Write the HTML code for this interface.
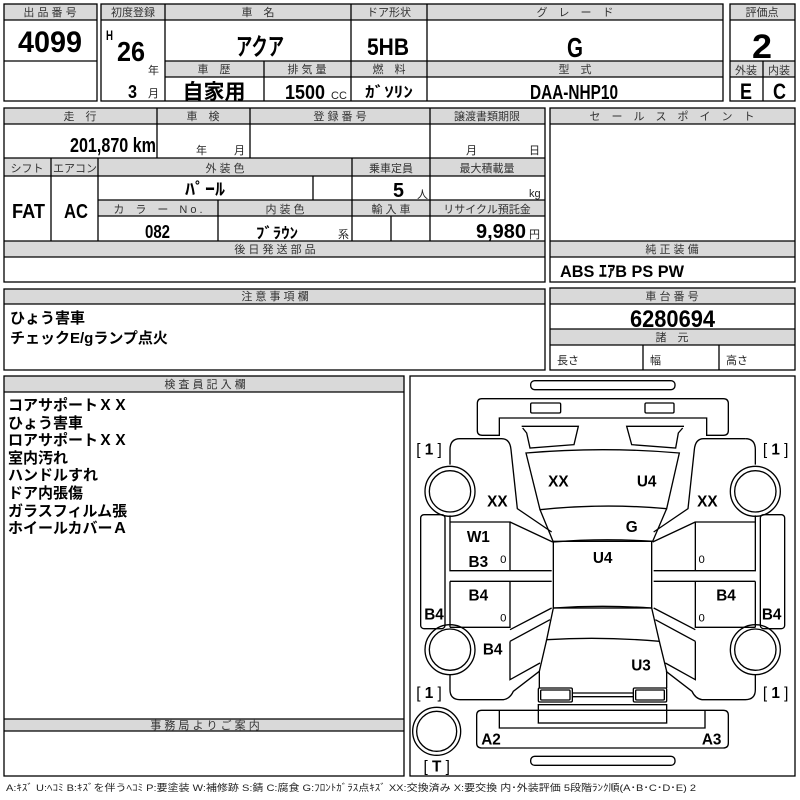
<!DOCTYPE html>
<html><head><meta charset="utf-8"><style>
html,body{margin:0;padding:0;background:#fff;width:800px;height:800px;overflow:hidden}
svg text{font-family:"Liberation Sans","Noto Sans CJK JP",sans-serif}
.h{font-size:11px;fill:#333;text-anchor:middle}
.b{font-weight:bold;fill:#000}
.m{text-anchor:middle}
.s{font-size:11px;fill:#222}
.j{font-size:15px;font-weight:bold}
</style></head><body>
<svg width="800" height="800" viewBox="0 0 800 800" xmlns="http://www.w3.org/2000/svg">
<g fill="#d9d9d9" stroke="none">
<rect x="4" y="4" width="93" height="16"/>
<rect x="101" y="4" width="622" height="16"/>
<rect x="165" y="61" width="558" height="16"/>
<rect x="730" y="4" width="65" height="16"/>
<rect x="730" y="61" width="65" height="16"/>
<rect x="4" y="108" width="541" height="16"/>
<rect x="4" y="158" width="541" height="18"/>
<rect x="98" y="200" width="447" height="16"/>
<rect x="4" y="241" width="541" height="16"/>
<rect x="550" y="108" width="245" height="16"/>
<rect x="550" y="241" width="245" height="16"/>
<rect x="550" y="288" width="245" height="16"/>
<rect x="550" y="329" width="245" height="16"/>
<rect x="4" y="289" width="541" height="15"/>
<rect x="4" y="376" width="400" height="16"/>
<rect x="4" y="719" width="400" height="12"/>
</g>
<g fill="none" stroke="#000" stroke-width="1.3">
<rect x="4" y="4" width="93" height="97"/>
<path d="M4 20H97M4 61H97"/>
<rect x="101" y="4" width="622" height="97"/>
<path d="M101 20H723M165 61H723M165 77H723M165 4V101M351 4V101M427 4V101M264 61V101"/>
<rect x="730" y="4" width="65" height="97"/>
<path d="M730 20H795M730 61H795M730 77H795M763 61V101"/>
<rect x="4" y="108" width="541" height="174"/>
<path d="M4 124H545M4 158H545M4 176H545M98 200H545M98 216H545M4 241H545M4 257H545M157 108V158M250 108V158M430 108V241M51 158V241M98 158V241M352 158V241M313 176V200M218 200V241M391 216V241"/>
<rect x="550" y="108" width="245" height="174"/>
<path d="M550 124H795M550 241H795M550 257H795"/>
<rect x="550" y="288" width="245" height="82"/>
<path d="M550 304H795M550 329H795M550 345H795M643 345V370M719 345V370"/>
<rect x="4" y="289" width="541" height="81"/>
<path d="M4 304H545"/>
<rect x="4" y="376" width="400" height="400"/>
<path d="M4 392H404M4 719H404M4 731H404"/>
<rect x="410" y="376" width="385" height="400"/>
</g>
<text class="h" x="50" y="16">出 品 番 号</text>
<text class="b" x="18" y="52" font-size="30" textLength="64" lengthAdjust="spacingAndGlyphs">4099</text>
<text class="h" x="133" y="16">初度登録</text>
<text class="h" x="258" y="16">車　名</text>
<text class="h" x="389" y="16">ドア形状</text>
<text class="h" x="575" y="16">グ　レ　ー　ド</text>
<text class="b" x="106" y="40" font-size="14" textLength="7" lengthAdjust="spacingAndGlyphs">H</text>
<text class="b" x="117" y="61" font-size="28" textLength="28" lengthAdjust="spacingAndGlyphs">26</text>
<text class="s" x="148" y="74">年</text>
<text class="b" x="128" y="98" font-size="18" textLength="9" lengthAdjust="spacingAndGlyphs">3</text>
<text class="s" x="148" y="97">月</text>
<text class="b" x="236" y="55" font-size="24" textLength="48" lengthAdjust="spacingAndGlyphs">アクア</text>
<text class="b" x="367" y="55" font-size="24" textLength="42" lengthAdjust="spacingAndGlyphs">5HB</text>
<text class="b" x="567" y="57" font-size="28" textLength="16" lengthAdjust="spacingAndGlyphs">G</text>
<text class="h" x="214" y="73">車　歴</text>
<text class="h" x="307" y="73">排 気 量</text>
<text class="h" x="389" y="73">燃　料</text>
<text class="h" x="575" y="73">型　式</text>
<text class="m" x="214" y="99" font-size="21" font-weight="bold">自家用</text>
<text class="b" x="285" y="99" font-size="20" textLength="40" lengthAdjust="spacingAndGlyphs">1500</text>
<text class="s" x="331" y="99" font-size="10">CC</text>
<text class="b" x="365" y="97" font-size="15" textLength="48" lengthAdjust="spacingAndGlyphs">ｶﾞｿﾘﾝ</text>
<text class="b" x="530" y="99" font-size="20" textLength="88" lengthAdjust="spacingAndGlyphs">DAA-NHP10</text>
<text class="h" x="762" y="16">評価点</text>
<text class="b" x="752" y="58" font-size="34" textLength="20" lengthAdjust="spacingAndGlyphs">2</text>
<text class="h" x="746" y="74" font-size="10">外装</text>
<text class="h" x="779" y="74" font-size="10">内装</text>
<text class="b" x="740" y="99" font-size="22" textLength="12" lengthAdjust="spacingAndGlyphs">E</text>
<text class="b" x="773" y="99" font-size="22" textLength="13" lengthAdjust="spacingAndGlyphs">C</text>

<text class="h" x="80" y="120">走　行</text>
<text class="h" x="203" y="120">車　検</text>
<text class="h" x="340" y="120">登 録 番 号</text>
<text class="h" x="487" y="120">譲渡書類期限</text>
<text class="b" x="70" y="152" font-size="20" textLength="86" lengthAdjust="spacingAndGlyphs">201,870 km</text>
<text class="s" x="196" y="154">年</text>
<text class="s" x="234" y="154">月</text>
<text class="s" x="466" y="154">月</text>
<text class="s" x="529" y="154">日</text>
<text class="h" x="27" y="172">シフト</text>
<text class="h" x="75" y="172">エアコン</text>
<text class="h" x="225" y="172">外 装 色</text>
<text class="h" x="391" y="172">乗車定員</text>
<text class="h" x="487" y="172">最大積載量</text>
<text class="b" x="12" y="218" font-size="20" textLength="33" lengthAdjust="spacingAndGlyphs">FAT</text>
<text class="b" x="64" y="218" font-size="20" textLength="24" lengthAdjust="spacingAndGlyphs">AC</text>
<text class="b" x="185" y="195" font-size="17" textLength="40" lengthAdjust="spacingAndGlyphs">ﾊﾟｰﾙ</text>
<text class="b" x="393" y="197" font-size="20" textLength="11" lengthAdjust="spacingAndGlyphs">5</text>
<text class="s" x="417" y="198">人</text>
<text class="s" x="529" y="197">kg</text>
<text class="h" x="158" y="213">カ　ラ　ー　N o .</text>
<text class="h" x="285" y="213">内 装 色</text>
<text class="h" x="391" y="213">輸 入 車</text>
<text class="h" x="487" y="213">リサイクル預託金</text>
<text class="b" x="145" y="238" font-size="18" textLength="25" lengthAdjust="spacingAndGlyphs">082</text>
<text class="b" x="256" y="238" font-size="15" textLength="42" lengthAdjust="spacingAndGlyphs">ﾌﾞﾗｳﾝ</text>
<text class="s" x="338" y="238" font-size="10">系</text>
<text class="b" x="476" y="238" font-size="20" textLength="50" lengthAdjust="spacingAndGlyphs">9,980</text>
<text class="s" x="529" y="238">円</text>
<text class="h" x="275" y="253">後 日 発 送 部 品</text>

<text class="h" x="672" y="120">セ　ー　ル　ス　ポ　イ　ン　ト</text>
<text class="h" x="672" y="253">純 正 装 備</text>
<text class="b" x="560" y="277" font-size="17" textLength="124" lengthAdjust="spacingAndGlyphs">ABS ｴｱB PS PW</text>
<text class="h" x="672" y="300">車 台 番 号</text>
<text class="b" x="630" y="327" font-size="24" textLength="85" lengthAdjust="spacingAndGlyphs">6280694</text>
<text class="h" x="672" y="341">諸　元</text>
<text class="s" x="557" y="364">長さ</text>
<text class="s" x="650" y="364">幅</text>
<text class="s" x="726" y="364">高さ</text>

<text class="h" x="275" y="300">注 意 事 項 欄</text>
<text class="j" x="10" y="323">ひょう害車</text>
<text class="j" x="10" y="343">チェックE/gランプ点火</text>

<text class="h" x="205" y="388">検 査 員 記 入 欄</text>
<text class="j" x="8" y="410">コアサポートＸＸ</text>
<text class="j" x="8" y="428">ひょう害車</text>
<text class="j" x="8" y="445">ロアサポートＸＸ</text>
<text class="j" x="8" y="463">室内汚れ</text>
<text class="j" x="8" y="480">ハンドルすれ</text>
<text class="j" x="8" y="498">ドア内張傷</text>
<text class="j" x="8" y="516">ガラスフィルム張</text>
<text class="j" x="8" y="533">ホイールカバーＡ</text>
<text class="h" x="205" y="729">事 務 局 よ り ご 案 内</text>
<text x="6" y="791" font-size="9.5" fill="#222" textLength="690" lengthAdjust="spacingAndGlyphs">A:ｷｽﾞ U:ﾍｺﾐ B:ｷｽﾞを伴うﾍｺﾐ P:要塗装 W:補修跡 S:錆 C:腐食 G:ﾌﾛﾝﾄｶﾞﾗｽ点ｷｽﾞ XX:交換済み X:要交換  内･外装評価  5段階ﾗﾝｸ順(A･B･C･D･E) 2</text>

<svg x="410" y="378" width="390" height="400" viewBox="0 0 1170 1200">
<defs>
<g id="half" fill="none" stroke="#000" stroke-width="4">
<path d="M150 182H275Q300 182 303 215L322 392L425 462"/>
<path d="M120 260V215Q120 182 150 182"/>
<circle cx="120" cy="340" r="75"/><circle cx="120" cy="340" r="62"/>
<circle cx="120" cy="815" r="75"/><circle cx="120" cy="815" r="62"/>
<path d="M120 412V578H425M120 432H300V578M300 432L428 492"/>
<path d="M120 610H425M120 610V748M120 748H300V610M300 755L425 690"/>
<rect x="32" y="410" width="73" height="342" rx="10"/>
<path d="M300 790L420 725M300 790V905L390 855"/>
<path d="M120 890V935Q120 965 150 965H280Q300 962 310 940L388 880"/>
</g>
</defs>
<g fill="none" stroke="#000" stroke-width="4">
<rect x="362" y="8" width="433" height="27" rx="12"/>
<path d="M215 62H940Q955 62 955 77V158Q955 172 940 172H890V120H268V172H217Q202 172 202 158V77Q202 62 215 62Z"/>
<rect x="362" y="75" width="90" height="30" rx="4"/>
<rect x="705" y="75" width="87" height="30" rx="4"/>
<path d="M335 145L505 145L492 200L360 210L350 165L338 150"/>
<path d="M822 145L650 145L665 200L797 210L805 165L818 150"/>
<path d="M348 225Q578 205 808 225L770 392Q580 375 390 395Z"/>
<path d="M390 395L430 492Q578 480 728 490L770 392"/>
<rect x="430" y="490" width="295" height="200"/>
<path d="M430 690Q578 680 725 690L748 790Q578 775 410 785Z"/>
<path d="M410 785L388 880V930M748 790L770 880V930"/>
<rect x="385" y="930" width="102" height="42" rx="4"/>
<rect x="392" y="936" width="88" height="30" rx="3"/>
<rect x="670" y="930" width="100" height="42" rx="4"/>
<rect x="677" y="936" width="86" height="30" rx="3"/>
<path d="M487 945H670M487 956H670"/>
<rect x="385" y="980" width="385" height="55"/>
<path d="M215 997H940Q955 997 955 1012V1095Q955 1110 940 1110H215Q200 1110 200 1095V1012Q200 997 215 997ZM268 997V1050H885V997"/>
<rect x="362" y="1135" width="433" height="27" rx="12"/>
<circle cx="80" cy="1060" r="72"/><circle cx="80" cy="1060" r="60"/>
</g>
<use href="#half"/>
<use href="#half" transform="matrix(-1 0 0 1 1156 0)"/>
<g font-family="Liberation Sans" font-weight="bold" font-size="46" fill="#000" text-anchor="middle">
<text x="445" y="325">XX</text><text x="710" y="325">U4</text>
<text x="262" y="385">XX</text><text x="892" y="385">XX</text>
<text x="665" y="462">G</text>
<text x="205" y="492">W1</text><text x="205" y="567">B3</text>
<text x="578" y="555">U4</text>
<text x="205" y="668">B4</text><text x="948" y="668">B4</text>
<text x="72" y="725">B4</text><text x="1085" y="725">B4</text>
<text x="248" y="830">B4</text><text x="693" y="878">U3</text>
<text x="243" y="1100">A2</text><text x="905" y="1100">A3</text>
</g>
<g font-family="Liberation Sans" font-size="34" fill="#000" text-anchor="middle">
<text x="280" y="555">0</text><text x="280" y="730">0</text>
<text x="875" y="555">0</text><text x="875" y="730">0</text>
</g>
<g font-family="Liberation Sans" font-size="46" fill="#000" text-anchor="middle">
<text x="57" y="230">[ <tspan font-weight="bold">1</tspan> ]</text>
<text x="1097" y="230">[ <tspan font-weight="bold">1</tspan> ]</text>
<text x="57" y="960">[ <tspan font-weight="bold">1</tspan> ]</text>
<text x="1097" y="960">[ <tspan font-weight="bold">1</tspan> ]</text>
<text x="80" y="1180">[ <tspan font-weight="bold">T</tspan> ]</text>
</g>
</svg>
</svg>
</body></html>
